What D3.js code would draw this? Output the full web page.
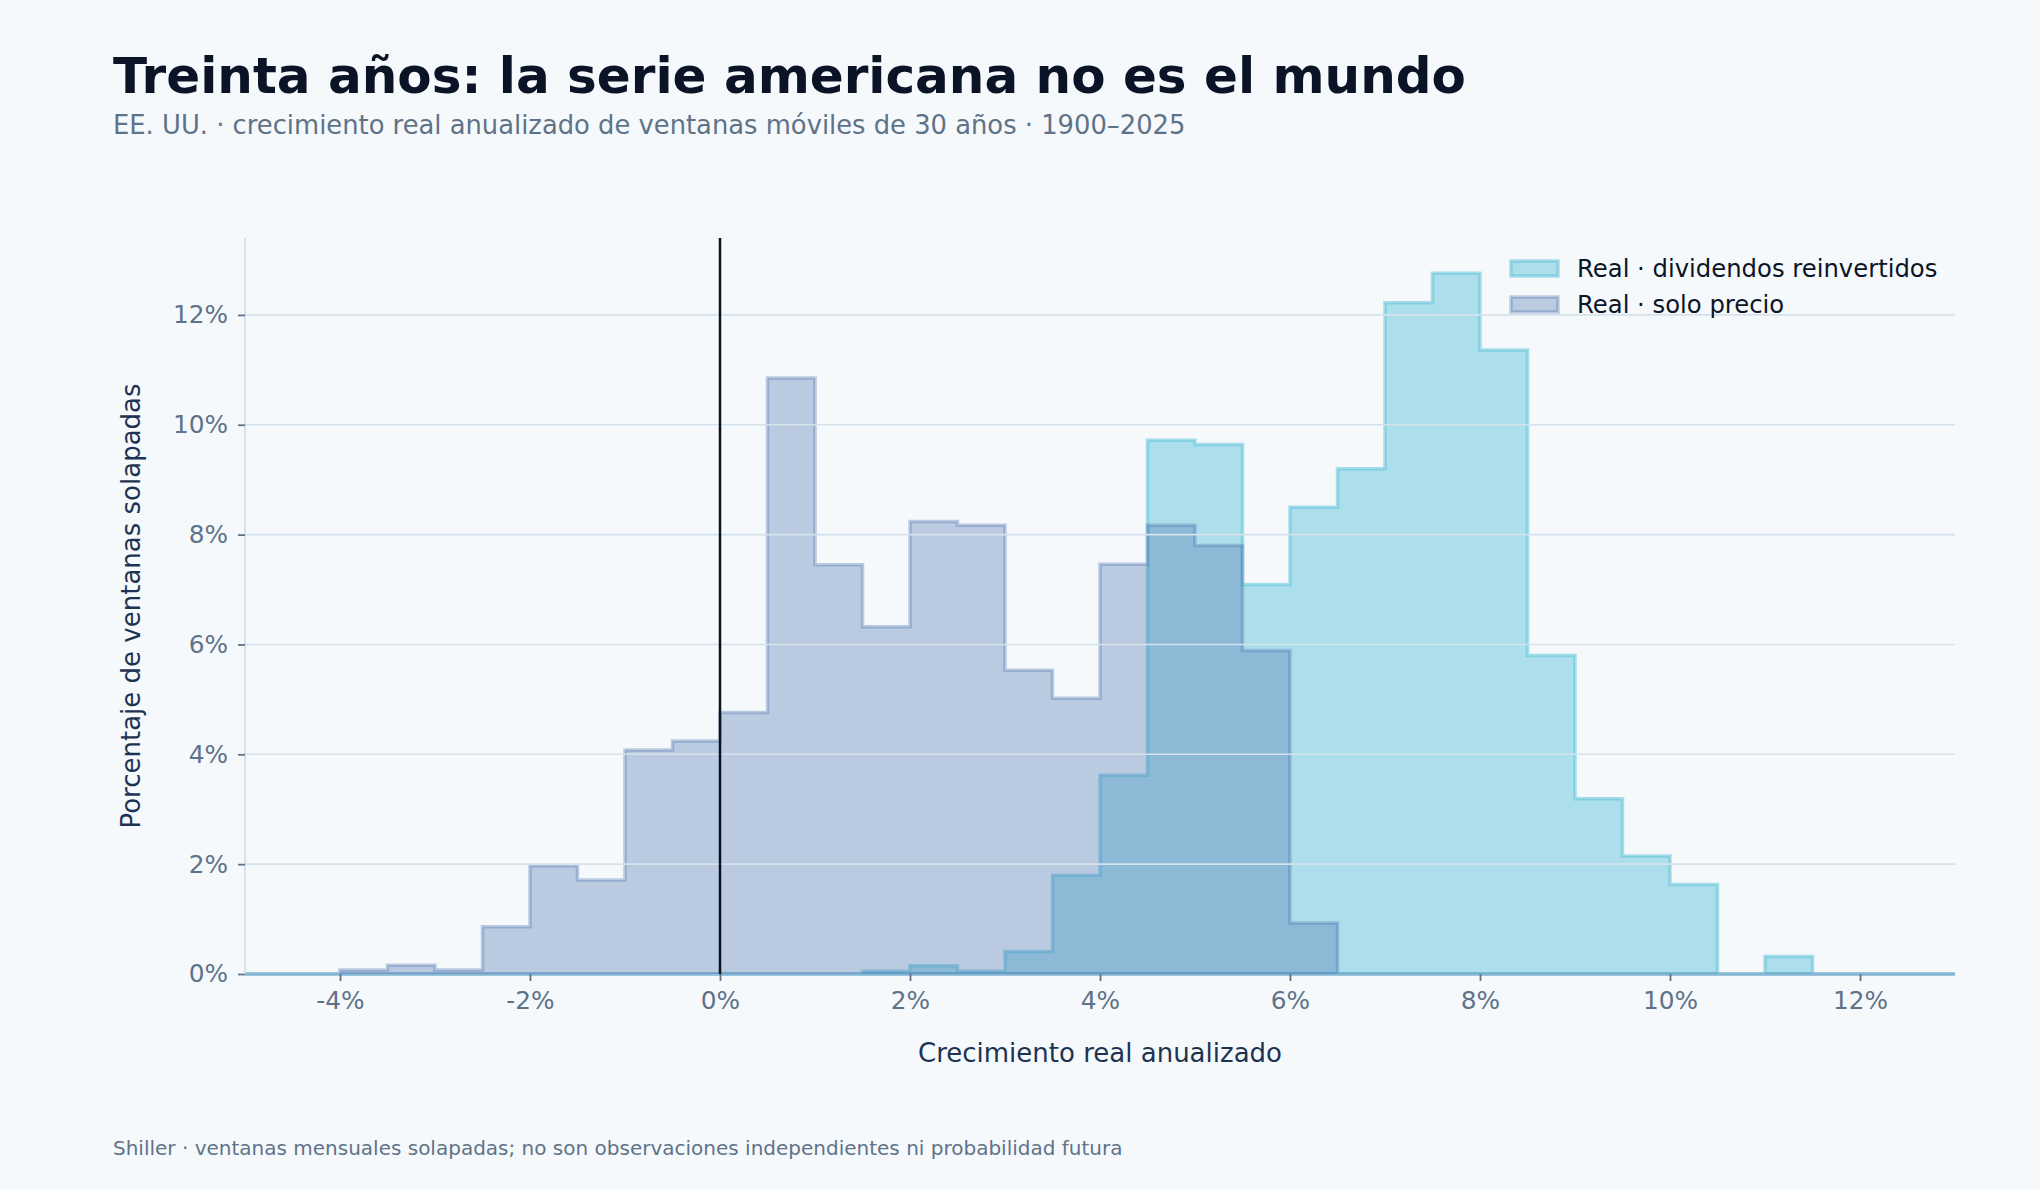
<!DOCTYPE html>
<html>
<head>
<meta charset="utf-8">
<script src="https://cdn.jsdelivr.net/npm/d3@7"></script>
<style>
  html, body { margin: 0; padding: 0; background: #F5F9FC; }
  svg { display: block; font-family: "DejaVu Sans", sans-serif; }
</style>
</head>
<body>
<script>
// bin edges (% annualised real growth), 0.5 wide
const binEdges = [-5, -4.5, -4, -3.5, -3, -2.5, -2, -1.5, -1, -0.5, 0, 0.5, 1, 1.5, 2, 2.5, 3, 3.5,
                  4, 4.5, 5, 5.5, 6, 6.5, 7, 7.5, 8, 8.5, 9, 9.5, 10, 10.5, 11, 11.5, 12, 12.5, 13];

// share of overlapping windows per bin (%)
const dividendos = [0, 0, 0, 0, 0, 0, 0, 0, 0, 0, 0, 0, 0, 0.05, 0.15, 0.05, 0.41, 1.80,
                    3.62, 9.72, 9.64, 7.09, 8.50, 9.20, 12.22, 12.76, 11.36, 5.80, 3.19, 2.15, 1.63, 0, 0.32, 0, 0, 0];
const soloPrecio = [0, 0, 0.075, 0.16, 0.075, 0.86, 1.97, 1.71, 4.08, 4.24, 4.76, 10.85, 7.45, 6.32, 8.24, 8.17, 5.53, 5.02,
                    7.46, 8.17, 7.80, 5.89, 0.93, 0, 0, 0, 0, 0, 0, 0, 0, 0, 0, 0, 0, 0];

const xTicks = [-4, -2, 0, 2, 4, 6, 8, 10, 12];
const yTicks = [0, 2, 4, 6, 8, 10, 12];

const seriesNames = ['Real · dividendos reinvertidos', 'Real · solo precio'];
const seriesColors = ['#55BFD8', '#4C72B0'];

const width = 2040;
const height = 1190;
const margin = {top: 238, right: 85, bottom: 216, left: 245};

const svg = d3.select('body')
  .append('svg')
  .attr('width', width)
  .attr('height', height);

svg.append('rect')
  .attr('width', width)
  .attr('height', height)
  .attr('fill', '#F5F9FC');

const xScale = d3.scaleLinear()
  .domain([-5, 13])
  .range([margin.left, width - margin.right]);

const yScale = d3.scaleLinear()
  .domain([0, 13.4])
  .range([height - margin.bottom, margin.top]);

// titles
svg.append('text')
  .attr('x', 113).attr('y', 93)
  .attr('font-size', 50).attr('font-weight', 'bold')
  .attr('fill', '#0B1426')
  .text('Treinta años: la serie americana no es el mundo');

svg.append('text')
  .attr('x', 113).attr('y', 134)
  .attr('font-size', 25.8)
  .attr('fill', '#5F7388')
  .text('EE. UU. · crecimiento real anualizado de ventanas móviles de 30 años · 1900–2025');

svg.append('text')
  .attr('x', 113).attr('y', 1155)
  .attr('font-size', 20)
  .attr('fill', '#5F7388')
  .text('Shiller · ventanas mensuales solapadas; no son observaciones independientes ni probabilidad futura');

// histograms (step outline, closed to baseline)
const area = d3.area()
  .curve(d3.curveStepAfter)
  .x(d => xScale(d[0]))
  .y0(yScale(0))
  .y1(d => yScale(d[1]));

const opacities = [[0.45, 0.5], [0.35, 0.35]];

[dividendos, soloPrecio].forEach((vals, i) => {
  const pts = binEdges.map((e, j) => [e, j < vals.length ? vals[j] : vals[vals.length - 1]]);
  svg.append('path')
    .attr('d', area(pts))
    .attr('fill', seriesColors[i])
    .attr('fill-opacity', opacities[i][0])
    .attr('stroke', seriesColors[i])
    .attr('stroke-opacity', opacities[i][1])
    .attr('stroke-width', 3.5)
    .attr('stroke-linejoin', 'miter');
});

// grid on top of the fills
svg.append('g')
  .selectAll('line')
  .data(yTicks.filter(d => d > 0))
  .enter()
  .append('line')
  .attr('x1', xScale(-5))
  .attr('x2', xScale(13))
  .attr('y1', d => yScale(d))
  .attr('y2', d => yScale(d))
  .attr('stroke', '#D6E2EB')
  .attr('stroke-width', 1.6);

// zero line
svg.append('line')
  .attr('x1', xScale(0)).attr('x2', xScale(0))
  .attr('y1', yScale(13.4)).attr('y2', yScale(0))
  .attr('stroke', '#0B1220')
  .attr('stroke-width', 2.5);

// axes
const xAxis = d3.axisBottom(xScale)
  .tickValues(xTicks)
  .tickSize(7)
  .tickPadding(10)
  .tickFormat(d => d + '%');

const yAxis = d3.axisLeft(yScale)
  .tickValues(yTicks)
  .tickSize(7)
  .tickPadding(10)
  .tickFormat(d => d + '%');

const gx = svg.append('g')
  .attr('transform', `translate(0, ${yScale(0)})`)
  .call(xAxis);

const gy = svg.append('g')
  .attr('transform', `translate(${margin.left}, 0)`)
  .call(yAxis);

gx.select('.domain').remove();
gy.select('.domain')
  .attr('stroke', '#D0DDE8')
  .attr('stroke-width', 1.6)
  .attr('d', `M0,${yScale(0)}V${yScale(13.4)}`);

[gx, gy].forEach(g => {
  g.selectAll('.tick line').attr('stroke', '#5F7388').attr('stroke-width', 1.8);
  g.selectAll('.tick text')
    .attr('fill', '#5F7388')
    .attr('font-size', 24.8)
    .attr('font-family', '"DejaVu Sans", sans-serif');
});

// axis labels
svg.append('text')
  .attr('x', (xScale(-5) + xScale(13)) / 2)
  .attr('y', 1062)
  .attr('text-anchor', 'middle')
  .attr('font-size', 26)
  .attr('fill', '#1E3352')
  .text('Crecimiento real anualizado');

svg.append('text')
  .attr('transform', `translate(140, ${(yScale(0) + yScale(13.4)) / 2}) rotate(-90)`)
  .attr('text-anchor', 'middle')
  .attr('font-size', 26)
  .attr('fill', '#1E3352')
  .text('Porcentaje de ventanas solapadas');

// legend
const legend = svg.append('g');
seriesNames.forEach((name, i) => {
  legend.append('rect')
    .attr('x', 1511).attr('y', 261 + i * 36)
    .attr('width', 47).attr('height', 15)
    .attr('fill', seriesColors[i])
    .attr('fill-opacity', opacities[i][0])
    .attr('stroke', seriesColors[i])
    .attr('stroke-opacity', opacities[i][1])
    .attr('stroke-width', 3.5);
  legend.append('text')
    .attr('x', 1577).attr('y', 277 + i * 36)
    .attr('font-size', 24.3)
    .attr('fill', '#0B1526')
    .text(name);
});
</script>
</body>
</html>
